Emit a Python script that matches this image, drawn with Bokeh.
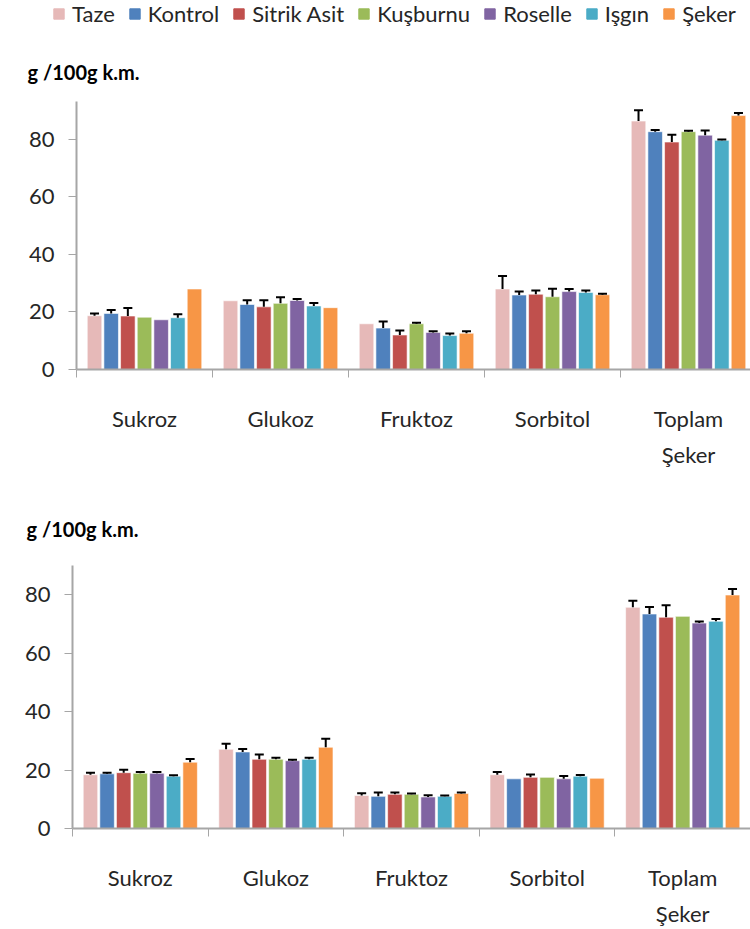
from bokeh.plotting import figure
from bokeh.models import ColumnDataSource, Whisker, TeeHead, FixedTicker
from bokeh.embed import file_html
from bokeh.resources import INLINE

# Categories and treatments
categories = ["Sukroz", "Glukoz", "Fruktoz", "Sorbitol", "Toplam\nŞeker"]
series = ["Taze", "Kontrol", "Sitrik Asit", "Kuşburnu", "Roselle", "Işgın", "Şeker"]
colors = ["#E6B9B8", "#4F81BD", "#C0504D", "#9BBB59", "#8064A2", "#4BACC6", "#F79646"]
y_ticks = [0, 20, 40, 60, 80]
unit_label = "g /100g k.m."

# Upper chart: means (g/100g dry matter) per treatment, in category order
top_taze = [18.7, 23.9, 15.9, 28.0, 86.4]
top_kontrol = [19.5, 22.6, 14.4, 25.9, 82.7]
top_sitrik = [18.6, 21.8, 12.0, 26.2, 79.1]
top_kusburnu = [18.2, 23.0, 15.9, 25.3, 82.7]
top_roselle = [17.3, 24.0, 12.9, 27.1, 81.5]
top_isgin = [18.0, 22.1, 11.8, 26.8, 79.7]
top_seker = [28.0, 21.5, 12.6, 26.0, 88.3]

# Upper chart: standard deviations (0 = no error bar shown)
top_taze_err = [0.8, 0.0, 0.0, 4.5, 3.8]
top_kontrol_err = [1.2, 1.5, 2.3, 1.2, 0.6]
top_sitrik_err = [2.8, 2.3, 1.6, 1.3, 2.5]
top_kusburnu_err = [0.0, 2.1, 0.4, 2.8, 0.3]
top_roselle_err = [0.0, 0.5, 0.4, 0.9, 1.6]
top_isgin_err = [1.2, 1.0, 0.7, 0.7, 0.3]
top_seker_err = [0.0, 0.0, 0.7, 0.3, 0.9]

# Lower chart: means
bot_taze = [18.4, 27.1, 11.3, 18.4, 75.7]
bot_kontrol = [18.7, 26.2, 11.0, 17.0, 73.4]
bot_sitrik = [19.1, 23.7, 11.7, 17.5, 72.3]
bot_kusburnu = [18.9, 23.7, 11.7, 17.5, 72.6]
bot_roselle = [18.9, 23.2, 10.8, 17.0, 70.3]
bot_isgin = [17.9, 23.7, 11.0, 17.9, 70.9]
bot_seker = [22.7, 27.8, 12.0, 17.2, 79.9]

# Lower chart: standard deviations
bot_taze_err = [0.7, 1.9, 0.8, 0.9, 2.2]
bot_kontrol_err = [0.4, 1.0, 1.3, 0.0, 2.4]
bot_sitrik_err = [1.0, 1.6, 0.6, 1.0, 4.1]
bot_kusburnu_err = [0.4, 0.5, 0.3, 0.0, 0.0]
bot_roselle_err = [0.4, 0.3, 0.6, 1.0, 0.5]
bot_isgin_err = [0.3, 0.5, 0.3, 0.4, 0.8]
bot_seker_err = [1.1, 2.9, 0.3, 0.0, 2.1]

top_values = [top_taze, top_kontrol, top_sitrik, top_kusburnu, top_roselle, top_isgin, top_seker]
top_errors = [top_taze_err, top_kontrol_err, top_sitrik_err, top_kusburnu_err,
              top_roselle_err, top_isgin_err, top_seker_err]
bot_values = [bot_taze, bot_kontrol, bot_sitrik, bot_kusburnu, bot_roselle, bot_isgin, bot_seker]
bot_errors = [bot_taze_err, bot_kontrol_err, bot_sitrik_err, bot_kusburnu_err,
              bot_roselle_err, bot_isgin_err, bot_seker_err]

FONT = "Lato"
TEXT = "#262626"
AXIS = "#a6a6a6"
PITCH = 0.1225   # spacing between bars inside a group
BAR_W = 0.107


def legend_strip(height):
    """Shared legend for both charts, drawn in its own narrow strip."""
    p = figure(width=750, height=height, x_range=(0, 1), y_range=(0, 1),
               output_backend="svg", toolbar_location=None,
               x_axis_location=None, y_axis_location=None,
               min_border_left=0, min_border_right=0, min_border_top=0, min_border_bottom=0)
    p.outline_line_color = None
    p.grid.visible = False
    # one swatch renderer per treatment; its single point sits outside the strip's range
    for name, col in zip(series, colors):
        p.vbar(x=[5], top=[1], width=0.1, fill_color=col, line_color=col, legend_label=name)
    lg = p.legend[0]
    lg.location = (52, 13)
    lg.orientation = "horizontal"
    lg.padding = 0
    lg.margin = 0
    lg.spacing = 13
    lg.label_standoff = 7
    lg.glyph_width = 13
    lg.glyph_height = 13
    lg.label_text_font = FONT
    lg.label_text_font_size = "22px"
    lg.label_text_color = TEXT
    lg.border_line_color = None
    lg.background_fill_alpha = 0
    return p


def build(values, errors, height, x_end, y_end, border_left, border_top, border_bottom,
          title_offset, title_standoff):
    p = figure(width=750, height=height, x_range=(0, x_end), y_range=(0, y_end),
               output_backend="svg", toolbar_location=None, title=unit_label,
               min_border_left=border_left, min_border_right=0,
               min_border_top=border_top, min_border_bottom=border_bottom)
    p.outline_line_color = None
    p.grid.visible = False

    p.title.align = "left"
    p.title.offset = title_offset
    p.title.standoff = title_standoff
    p.title.text_font = FONT
    p.title.text_font_style = "bold"
    p.title.text_font_size = "20px"
    p.title.text_color = "black"

    wx, wlo, whi = [], [], []
    for j, col in enumerate(colors):
        xs = [i + 0.5 + (j - 3) * PITCH for i in range(len(categories))]
        src = ColumnDataSource(dict(x=xs, top=values[j]))
        p.vbar(x="x", top="top", width=BAR_W, source=src, fill_color=col,
               line_color="white", line_width=1, line_alpha=0.6)
        for x, v, e in zip(xs, values[j], errors[j]):
            if e > 0:
                wx.append(x)
                wlo.append(v)
                whi.append(v + e)

    wsrc = ColumnDataSource(dict(x=wx, lower=wlo, upper=whi))
    p.add_layout(Whisker(source=wsrc, base="x", lower="lower", upper="upper",
                         dimension="height", line_color="black", line_width=2,
                         upper_head=TeeHead(size=9, line_color="black", line_width=2),
                         lower_head=None, level="annotation"))

    # y axis
    p.yaxis.ticker = FixedTicker(ticks=y_ticks)
    p.yaxis.axis_line_color = AXIS
    p.yaxis.axis_line_width = 2
    p.yaxis.major_tick_line_color = AXIS
    p.yaxis.major_tick_out = 8
    p.yaxis.major_tick_in = 0
    p.yaxis.minor_tick_line_color = None
    p.yaxis.major_label_standoff = 14
    p.yaxis.major_label_text_font = FONT
    p.yaxis.major_label_text_font_size = "22px"
    p.yaxis.major_label_text_color = TEXT

    # x axis: labels at group centres, tick marks between groups
    centres = [i + 0.5 for i in range(len(categories))]
    p.xaxis.ticker = FixedTicker(ticks=centres, minor_ticks=list(range(len(categories) + 1)))
    p.xaxis.major_label_overrides = {c: lab for c, lab in zip(centres, categories)}
    p.xaxis.axis_line_color = AXIS
    p.xaxis.axis_line_width = 2
    p.xaxis.major_tick_line_color = None
    p.xaxis.major_tick_out = 0
    p.xaxis.major_tick_in = 0
    p.xaxis.minor_tick_line_color = AXIS
    p.xaxis.minor_tick_out = 8
    p.xaxis.minor_tick_in = 0
    p.xaxis.major_label_standoff = 27
    p.xaxis.major_label_text_font = FONT
    p.xaxis.major_label_text_font_size = "22px"
    p.xaxis.major_label_text_color = TEXT
    p.xaxis.major_label_text_line_height = 1.35
    return p


p0 = legend_strip(40)
p1 = build(top_values, top_errors, height=430, x_end=(750 - 76) / 136, y_end=93.2,
           border_left=76, border_top=61, border_bottom=93,
           title_offset=-49, title_standoff=35)
p2 = build(bot_values, bot_errors, height=459, x_end=5.0, y_end=90,
           border_left=72, border_top=95, border_bottom=88,
           title_offset=-46, title_standoff=50)

# each chart is its own root so that their frames keep their own left margins
open("out.html", "w").write(file_html([p0, p1, p2], INLINE))
